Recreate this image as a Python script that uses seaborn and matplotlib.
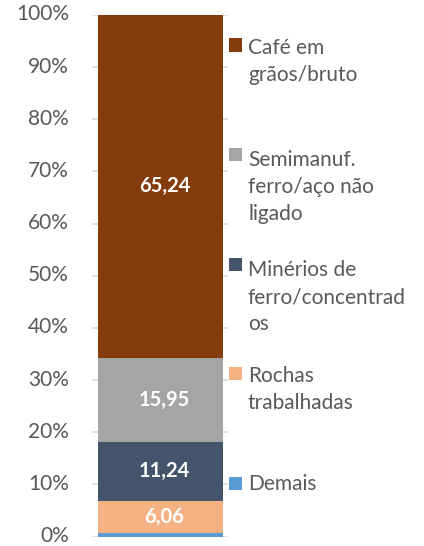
import matplotlib
matplotlib.use("Agg")
import matplotlib.pyplot as plt
from matplotlib.patches import Rectangle
from matplotlib.transforms import ScaledTranslation
import numpy as np
import pandas as pd
import seaborn as sns

# stacked from bottom to top
categories = ["Demais", "Rochas trabalhadas", "Minérios de ferro/concentrados",
              "Semimanuf. ferro/aço não ligado", "Café em grãos/bruto"]
legend_labels = ["Demais", "Rochas\ntrabalhadas", "Minérios de\nferro/concentrad\nos",
                 "Semimanuf.\nferro/aço não\nligado", "Café em\ngrãos/bruto"]
values = [0.75, 6.06, 11.24, 15.95, 65.24]
value_labels = ["", "6,06", "11,24", "15,95", "65,24"]
colors = ["#5B9BD5", "#F4B183", "#44546A", "#A5A5A5", "#843C0C"]

sns.set_style("white")
plt.rcParams["font.family"] = ["Lato", "DejaVu Sans"]

share = np.array(values) / sum(values) * 100
df = pd.DataFrame({"categoria": categories, "pct": share, "top": np.cumsum(share)})
df["mid"] = df["top"] - df["pct"] / 2

fig = plt.figure(figsize=(4.24, 5.46), dpi=100)
ax = fig.add_axes([92 / 424, 1 - 536.5 / 546, 136.5 / 424, 521.5 / 546])

ax.yaxis.grid(True, color="#D9D9D9", linewidth=1.2)
ax.set_axisbelow(True)

# draw cumulative totals from the top down so each layer overlays the previous
for i in range(len(df) - 1, -1, -1):
    sns.barplot(x=["total"], y=[df["top"].iloc[i]], color=colors[i], saturation=1,
                width=0.915, ax=ax, linewidth=0)

for i, row in df.iterrows():
    if value_labels[i]:
        ax.text(0.03, row["mid"], value_labels[i], ha="center", va="center",
                color="white", fontsize=14.5, fontweight="bold")

ax.set_xlim(-0.5, 0.5)
ax.set_ylim(0, 100)
ax.set_yticks(np.arange(0, 101, 10))
ax.set_yticklabels([f"{t}%" for t in range(0, 101, 10)], fontsize=15, color="#595959")
ax.tick_params(axis="y", length=0, pad=16.5)
shift = ScaledTranslation(0, 2.5 / 100, fig.dpi_scale_trans)
for lab in ax.get_yticklabels():
    lab.set_transform(lab.get_transform() + shift)
ax.set_xticks([])
ax.set_xlabel("")
ax.set_ylabel("")
for s in ax.spines.values():
    s.set_visible(False)

# legend, top to bottom, handle aligned with first text line
centers_px = [45, 154, 264, 373, 483]
line_px = 29.8
for k, idx in enumerate(range(len(categories) - 1, -1, -1)):
    cy = centers_px[k]
    label = legend_labels[idx]
    n = label.count("\n")
    fig.patches.append(Rectangle((229 / 424, 1 - (cy + 6.5) / 546), 13 / 424, 13 / 546,
                                 transform=fig.transFigure, facecolor=colors[idx],
                                 edgecolor="none"))
    # baseline alignment applies to the last line of a multi-line text
    fig.text(248 / 424, 1 - (cy + 6.5 + n * line_px) / 546, label, ha="left",
             va="baseline", fontsize=15, color="#595959", linespacing=1.43)

fig.savefig("out.png", dpi=100)
